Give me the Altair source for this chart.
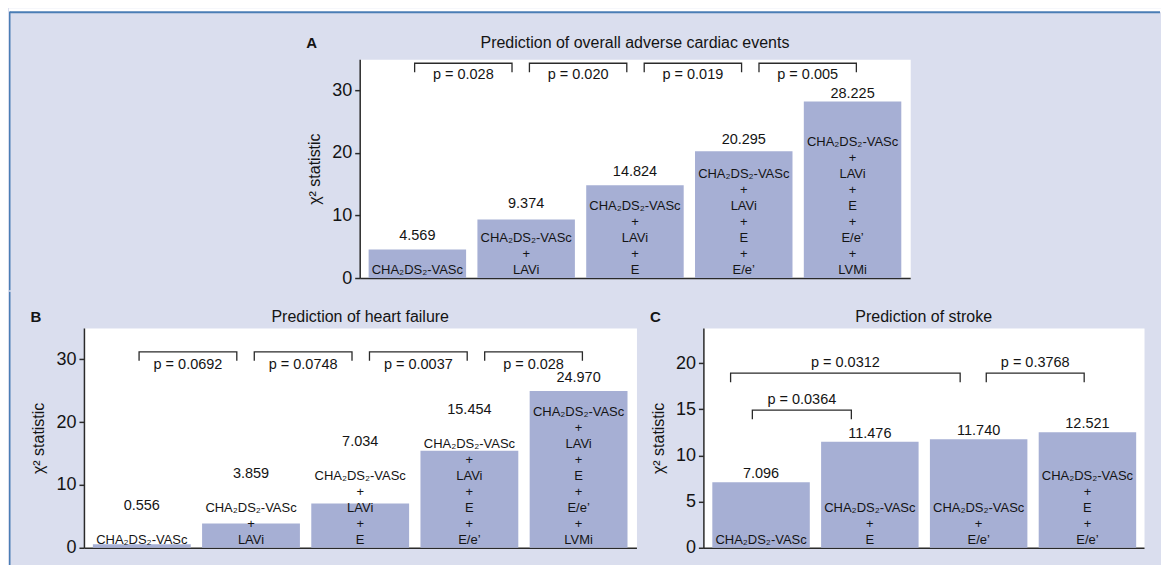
import altair as alt
import pandas as pd

# ---------------- data ----------------
CHA = "CHA₂DS₂-VASc"

a_labels = [CHA,
            CHA + "\n+\nLAVi",
            CHA + "\n+\nLAVi\n+\nE",
            CHA + "\n+\nLAVi\n+\nE\n+\nE/e’",
            CHA + "\n+\nLAVi\n+\nE\n+\nE/e’\n+\nLVMi"]
a_values = [4.569, 9.374, 14.824, 20.295, 28.225]
a_pairs = [(0, 1), (1, 2), (2, 3), (3, 4)]
a_pvals = ["p = 0.028", "p = 0.020", "p = 0.019", "p = 0.005"]
a_levels = [34.35, 34.35, 34.35, 34.35]

b_labels = a_labels
b_values = [0.556, 3.859, 7.034, 15.454, 24.970]
b_pairs = [(0, 1), (1, 2), (2, 3), (3, 4)]
b_pvals = ["p = 0.0692", "p = 0.0748", "p = 0.0037", "p = 0.028"]
b_levels = [31.2, 31.2, 31.2, 31.2]

c_labels = [CHA,
            CHA + "\n+\nE",
            CHA + "\n+\nE/e’",
            CHA + "\n+\nE\n+\nE/e’"]
c_values = [7.096, 11.476, 11.740, 12.521]
c_pairs = [(0, 1), (0, 2), (2, 3)]
c_pvals = ["p = 0.0364", "p = 0.0312", "p = 0.3768"]
c_levels = [14.9, 18.9, 18.9]

# ---------------- style ----------------
FONT = "Liberation Sans"
TXT = "#141414"
BAR = "#a6afd4"
LAV = "#dadeee"
BLUE = "#4a7db5"
LINE = "#2a2a2a"
LH = 16


def panel(labels, values, pairs, pvals, levels, ymax, yticks, W, H, xdom,
          title, letter, title_dy, p_dy, bracket_mode, deco=()):
    ppu = H / ymax
    hw = 0.448
    n = len(values)
    rows = []
    for i in range(n):
        nl = labels[i].count("\n") + 1
        vy = max(values[i] + 1.0 / ppu, (35 + (nl - 1) * LH) / ppu)
        ly = (4 + (nl - 1) * LH) / ppu
        rows.append(dict(x=i, x0=i - hw, x1=i + hw, v=values[i], label=labels[i],
                         vy=vy, ly=ly, vtext=f"{values[i]:.3f}"))
    df = pd.DataFrame(rows)

    leg = 9.0 / ppu
    ends = {j for (_, j) in pairs}
    brows, prow = [], []
    for k, (i, j) in enumerate(pairs):
        if bracket_mode == "slots":
            left = i * 1.055 - 0.025
            right = left + 0.895
        else:
            # nudge bracket ends apart where brackets meet or nest
            left = i + 0.07 if i in ends else i - 0.08 - 0.2 * (j - i - 1)
            right = j - 0.03 if j == n - 1 else j - 0.17
        lv = levels[k]
        pts = [(left, lv - leg), (left, lv), (right, lv), (right, lv - leg)]
        for o, (bx, by) in enumerate(pts):
            brows.append(dict(cid=k, ord=o, bx=bx, by=by))
        prow.append(dict(px=(left + right) / 2, py=lv, p=pvals[k]))
    dfb = pd.DataFrame(brows)
    dfp = pd.DataFrame(prow)

    xs = alt.Scale(domain=xdom, nice=False, zero=False)
    ys = alt.Scale(domain=[0, ymax], nice=False)
    xaxis = alt.Axis(labels=False, ticks=False, title="", grid=False,
                     domainColor=LINE, domainWidth=1.5)
    yaxis = alt.Axis(values=yticks, title="χ² statistic", titleFont=FONT,
                     titleFontSize=16, titleFontWeight="normal", titleColor=TXT,
                     titlePadding=9, labelFont=FONT, labelFontSize=18,
                     labelColor=TXT, labelPadding=3, domainColor=LINE,
                     domainWidth=1.5, tickColor=LINE, tickWidth=1.5, tickSize=5,
                     grid=False)

    def X(f):
        return alt.X(f, scale=xs, axis=xaxis)

    def Y(f):
        return alt.Y(f, scale=ys, axis=yaxis)

    bars = alt.Chart(df).mark_rect(color=BAR).encode(
        x=X("x0:Q"), x2="x1:Q", y=Y("v:Q"), y2=alt.Y2(datum=0))
    lab = alt.Chart(df).mark_text(font=FONT, fontSize=13, color=TXT,
                                  baseline="alphabetic", lineBreak="\n",
                                  lineHeight=LH).encode(
        x=X("x:Q"), y=Y("ly:Q"), text="label:N")
    val = alt.Chart(df).mark_text(font=FONT, fontSize=14.5, color=TXT,
                                  baseline="bottom").encode(
        x=X("x:Q"), y=Y("vy:Q"), text="vtext:N")
    br = alt.Chart(dfb).mark_line(color=LINE, strokeWidth=1.3).encode(
        x=X("bx:Q"), y=Y("by:Q"), detail="cid:N", order="ord:Q")
    pt = alt.Chart(dfp).mark_text(font=FONT, fontSize=14.5, color=TXT,
                                  baseline="middle", dy=p_dy).encode(
        x=X("px:Q"), y=Y("py:Q"), text="p:N")
    tt = alt.Chart(pd.DataFrame({"t": [title]})).mark_text(
        font=FONT, fontSize=16, color=TXT, baseline="middle").encode(
        x=alt.value(W / 2), y=alt.value(-title_dy), text="t:N")
    lt = alt.Chart(pd.DataFrame({"t": [letter]})).mark_text(
        font=FONT, fontSize=15, fontWeight="bold", color=TXT,
        baseline="middle").encode(
        x=alt.value(-48), y=alt.value(-title_dy), text="t:N")
    return alt.layer(*deco, bars, lab, val, br, pt, tt, lt).properties(
        width=W, height=H,
        view=alt.ViewBackground(fill="white", fillOpacity=1, strokeOpacity=0))


one = pd.DataFrame({"k": [0]})
# frame decoration, drawn in an empty spacer view left of panel A
sp_deco = [
    alt.Chart(one).mark_rect(color="white").encode(
        x=alt.value(-75), x2=alt.value(1078), y=alt.value(-51), y2=alt.value(-47)),
    alt.Chart(one).mark_rule(color=BLUE, strokeWidth=2).encode(
        x=alt.value(-74), x2=alt.value(1077), y=alt.value(-47)),
    alt.Chart(one).mark_rule(color=BLUE, strokeWidth=1.5, strokeCap="square").encode(
        x=alt.value(-74.25), y=alt.value(-47), y2=alt.value(230.5)),
]
spacer = alt.layer(*sp_deco).properties(
    width=276, height=219,
    view=alt.ViewBackground(fillOpacity=0, strokeOpacity=0))

# continuation of the left frame line (relative to panel B's plot)
b_deco = [
    alt.Chart(one).mark_rule(color=BLUE, strokeWidth=1.5, strokeCap="square").encode(
        x=alt.value(-74.25), y=alt.value(-35.5), y2=alt.value(237)),
]

A = panel(a_labels, a_values, a_pairs, a_pvals, a_levels, 35, [0, 10, 20, 30],
          551, 219, [-0.53, 4.53], "Prediction of overall adverse cardiac events",
          "A", 16, 12, "slots")
B = panel(b_labels, b_values, b_pairs, b_pvals, b_levels, 35, [0, 10, 20, 30],
          553, 220, [-0.53, 4.53], "Prediction of heart failure", "B", 11, 13,
          "slots", b_deco)
C = panel(c_labels, c_values, c_pairs, c_pvals, c_levels, 23.8, [0, 5, 10, 15, 20],
          441, 220, [-0.53, 3.52], "Prediction of stroke", "C", 11, -10, "nested")

row1 = alt.hconcat(spacer, A, spacing=0, bounds="flush")
row2 = alt.hconcat(B, C, spacing=67, bounds="flush")
chart = alt.vconcat(row1, row2, spacing=0).properties(
    background=LAV,
    padding={"left": 0, "top": 0, "right": 0, "bottom": 0},
).configure_view(strokeOpacity=0)

chart.save("out.html", embed_options={"renderer": "svg", "actions": False})
